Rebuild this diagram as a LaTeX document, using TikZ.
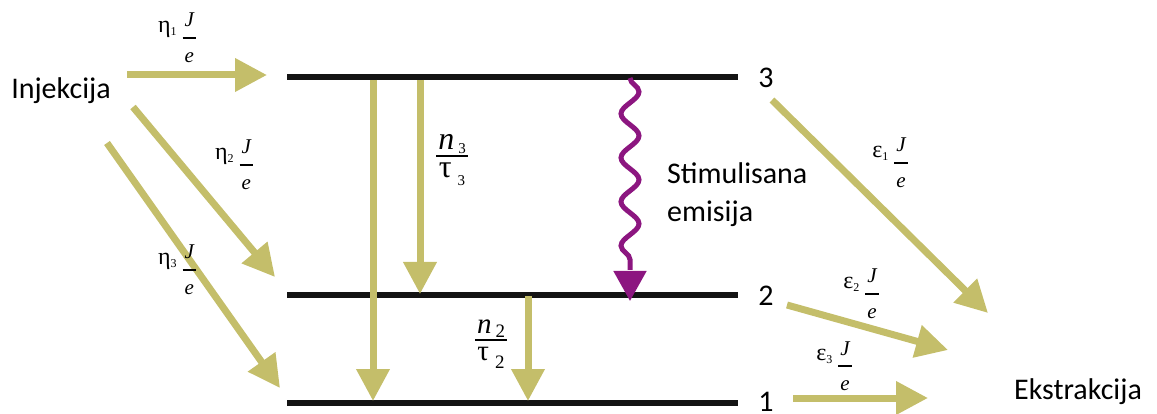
\documentclass[tikz,border=0pt]{standalone}
\usepackage{fontspec}
\setmainfont{Carlito}
\newfontfamily\tms{Liberation Serif}
\usetikzlibrary{arrows.meta,decorations.pathmorphing}
\definecolor{oliv}{RGB}{196,190,106}
\definecolor{purp}{RGB}{140,22,128}
\setlength{\arrayrulewidth}{1.6pt}
\newcommand\fsz[1]{\fontsize{#1}{#1}\selectfont}
% fraction: numerator, denominator, size, gap above rule, gap below rule
\newcommand\fr[5]{\begin{tabular}{@{\hspace{2pt}}c@{\hspace{2pt}}}\fsz{#3}#1\\[#4]\hline\noalign{\vskip#5}\fsz{#3}#2\end{tabular}}
\newcommand\rate[2]{{\tms\fsz{24}#1\raisebox{-3pt}{\fsz{12}#2}\hspace{6pt}\raisebox{-14pt}{\fr{\itshape J}{\itshape e}{21}{3pt}{7pt}}}}
\newcommand\nt[4]{{\tms\fr{\fsz{#3}\itshape n\hspace{4pt}\raisebox{-4pt}{\upshape\fsz{#4}#2}}{\fsz{#3}τ\hspace{6pt}\raisebox{-8pt}{\fsz{#4}#2}}{#3}{2pt}{6pt}}}
\begin{document}
\begin{tikzpicture}[x=1pt,y=-1pt,
  lvl/.style={line width=6pt, draw=black!92},
  flow/.style={draw=oliv, line width=7pt, -{Triangle[length=32pt,width=32pt]}},
  sans/.style={font=\fontsize{30}{36}\selectfont, inner sep=0pt},
  rt/.style={inner sep=0pt}]
\useasboundingbox (0,0) rectangle (1157,414);
% levels
\coordinate (L3a) at (287,77); \coordinate (L3b) at (738,77);
\coordinate (L2a) at (287,295); \coordinate (L2b) at (738,295);
\coordinate (L1a) at (287,403); \coordinate (L1b) at (738,403);
\draw[lvl] (L3a) -- (L3b);
\draw[lvl] (L2a) -- (L2b);
\draw[lvl] (L1a) -- (L1b);
\node[sans] (n3) at (766,78) {3};
\node[sans] (n2) at (766,296) {2};
\node[sans] (n1) at (766,402) {1};
% texts
\node[sans] (inj) at (61,91) {Injekcija};
\node[sans] (ext) at (1078,392) {Ekstrakcija};
\node[sans, anchor=west, align=left, font=\fontsize{30}{38}\selectfont] (stim) at (667,195) {Stimulisana\\emisija};
% injection
\coordinate (i1s) at (127,75); \coordinate (i1e) at (267,75);
\coordinate (i2s) at (133,107); \coordinate (i2e) at (275,277);
\coordinate (i3s) at (107,143); \coordinate (i3e) at (280,388);
\draw[flow] (i1s) -- (i1e);
\draw[flow] (i2s) -- (i2e);
\draw[flow] (i3s) -- (i3e);
\node[rt] (eta1) at (177,40) {\rate{η}{1}};
\node[rt] (eta2) at (234,167) {\rate{η}{2}};
\node[rt] (eta3) at (177,272) {\rate{η}{3}};
% relaxation
\coordinate (r1s) at (373,80); \coordinate (r1e) at (373,401);
\coordinate (r2s) at (420,80); \coordinate (r2e) at (420,294);
\coordinate (r3s) at (528,296); \coordinate (r3e) at (528,401);
\draw[flow] (r1s) -- (r1e);
\draw[flow] (r2s) -- (r2e);
\draw[flow] (r3s) -- (r3e);
\node[rt] (t3) at (452,160) {\nt{n}{3}{32}{15}};
\node[rt] (t2) at (491,344) {\nt{n}{2}{29}{19}};
% stimulated emission
\coordinate (w3) at (630,78); \coordinate (wm) at (630,270); \coordinate (w2) at (630,301);
\draw[purp, line width=5pt, decorate, decoration={snake, amplitude=9pt, segment length=44pt}] (w3) -- (wm);
\draw[purp, line width=5pt, -{Triangle[length=30pt,width=32pt]}] ([yshift=-2pt]wm) -- (w2);
% extraction
\coordinate (e1s) at (772,100); \coordinate (e1e) at (988,313);
\coordinate (e2s) at (787,305); \coordinate (e2e) at (948,350);
\coordinate (e3s) at (793,398); \coordinate (e3e) at (928,398);
\draw[flow] (e1s) -- (e1e);
\draw[flow] (e2s) -- (e2e);
\draw[flow] (e3s) -- (e3e);
\node[rt] (eps1) at (890,165) {\rate{ε}{1}};
\node[rt] (eps2) at (861,296) {\rate{ε}{2}};
\node[rt] (eps3) at (834,368) {\rate{ε}{3}};
\end{tikzpicture}
\end{document}
